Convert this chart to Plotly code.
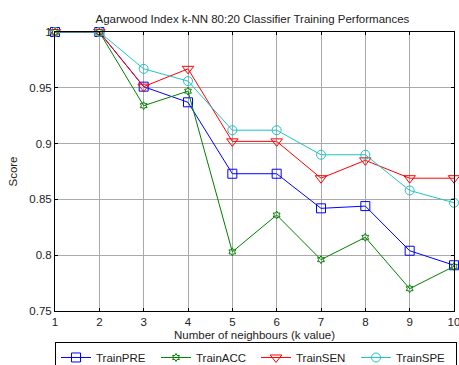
import plotly.graph_objects as go

k_values = [1, 2, 3, 4, 5, 6, 7, 8, 9, 10]
train_pre = [1.0, 1.0, 0.951, 0.937, 0.873, 0.873, 0.842, 0.844, 0.804, 0.791]
train_acc = [1.0, 1.0, 0.934, 0.947, 0.803, 0.836, 0.796, 0.816, 0.770, 0.790]
train_sen = [1.0, 1.0, 0.951, 0.967, 0.902, 0.902, 0.869, 0.885, 0.869, 0.869]
train_spe = [1.0, 1.0, 0.967, 0.956, 0.912, 0.912, 0.890, 0.890, 0.858, 0.847]
y_ticks = [0.75, 0.8, 0.85, 0.9, 0.95, 1.0]
y_tick_labels = ["0.75", "0.8", "0.85", "0.9", "0.95", "1"]

series = [
    ("TrainPRE", train_pre, "#0000FF", "square-open", 9),
    ("TrainACC", train_acc, "#008000", "hexagram-open", 6),
    ("TrainSEN", train_sen, "#FF0000", "triangle-down-open", 10),
    ("TrainSPE", train_spe, "#1FC4C4", "circle-open", 9),
]

FONT = "Liberation Sans, Arial"
FS = 11.5
fig = go.Figure()
for name, vals, color, sym, sz in series:
    fig.add_trace(go.Scatter(
        x=k_values, y=vals, name=name, mode="lines+markers",
        line=dict(color=color, width=1),
        marker=dict(symbol=sym, size=sz, color=color, line=dict(color=color, width=1)),
        cliponaxis=False,
    ))

axis_common = dict(
    showline=True, linecolor="black", linewidth=1, mirror="ticks",
    ticks="inside", ticklen=3, tickcolor="black",
    showgrid=True, gridcolor="#AAAAAA", gridwidth=1, zeroline=False,
    automargin=False, ticklabeloverflow="allow",
    tickfont=dict(family=FONT, size=FS, color="#222222"),
)

fig.update_layout(
    width=459, height=365,
    margin=dict(l=55, r=5, t=32, b=54, autoexpand=False),
    paper_bgcolor="white", plot_bgcolor="white",
    title=dict(text="Agarwood Index k-NN 80:20 Classifier Training Performances",
               x=0.55, xanchor="center", y=0.948, yanchor="middle",
               font=dict(family=FONT, size=FS, color="#222222")),
    font=dict(family=FONT, size=FS, color="#222222"),
    showlegend=True,
    legend=dict(orientation="h", x=0.0, xanchor="left", y=-0.111, yanchor="top",
                bordercolor="black", borderwidth=1, bgcolor="white",
                entrywidth=55, entrywidthmode="pixels", tracegroupgap=0,
                font=dict(family=FONT, size=FS, color="#222222")),
)
fig.update_xaxes(range=[1, 10], tickvals=k_values,
                 title=dict(text="Number of neighbours (k value)", standoff=4,
                            font=dict(family=FONT, size=FS, color="#222222")),
                 **axis_common)
fig.update_yaxes(range=[0.75, 1.0], tickvals=y_ticks, ticktext=y_tick_labels,
                 title=dict(text="Score", standoff=9,
                            font=dict(family=FONT, size=FS, color="#222222")),
                 **axis_common)

fig.write_html("out.html", config={"displayModeBar": False},
               post_script="document.body.style.margin='0';")
